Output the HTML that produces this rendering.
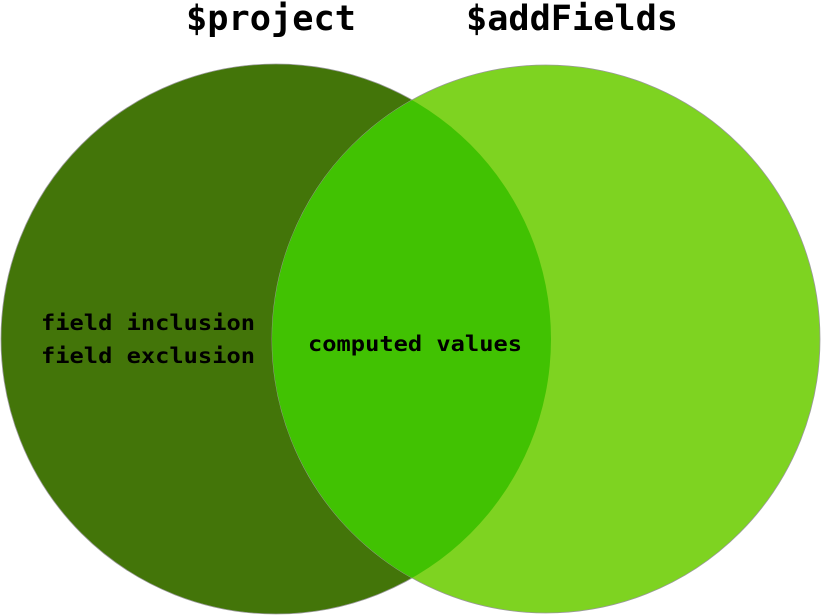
<!DOCTYPE html>
<html><head><style>
html,body{margin:0;padding:0;background:#fff;width:821px;height:616px;overflow:hidden}
</style></head><body>
<svg width="821" height="616" viewBox="0 0 821 616" xmlns="http://www.w3.org/2000/svg">
<defs><clipPath id="cl"><circle cx="276" cy="339" r="275"/></clipPath></defs>
<circle cx="276" cy="339" r="275" fill="#437509" stroke="#999" stroke-width="0.8"/>
<circle cx="546" cy="339" r="274" fill="#7ed321" stroke="#999" stroke-width="0.8"/>
<circle cx="546" cy="339" r="274" fill="#41c202" clip-path="url(#cl)"/>
<g font-family="DejaVu Sans Mono, Liberation Mono, monospace" font-weight="bold" fill="#000">
<text x="186" y="30" font-size="35" textLength="170" lengthAdjust="spacingAndGlyphs">$project</text>
<text x="466" y="30" font-size="35" textLength="212" lengthAdjust="spacingAndGlyphs">$addFields</text>
<text x="41" y="330" font-size="21" textLength="214" lengthAdjust="spacingAndGlyphs">field inclusion</text>
<text x="41" y="363" font-size="21" textLength="214" lengthAdjust="spacingAndGlyphs">field exclusion</text>
<text x="308" y="351" font-size="21" textLength="214" lengthAdjust="spacingAndGlyphs">computed values</text>
</g>
</svg>
</body></html>
